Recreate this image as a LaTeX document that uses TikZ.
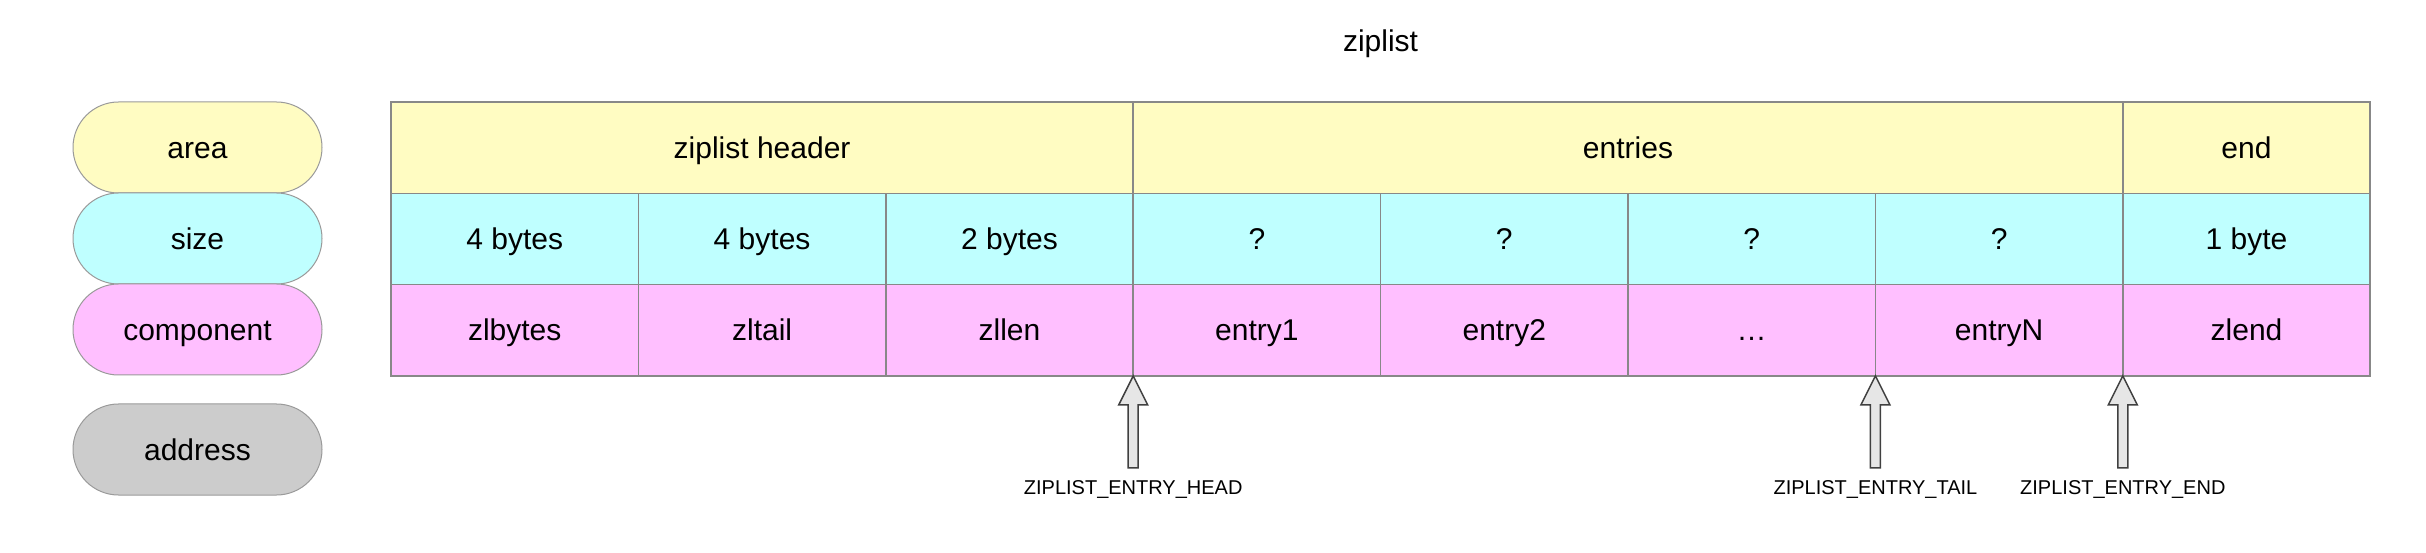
\documentclass[tikz,border=0pt]{standalone}
\usepackage{fontspec}
\setmainfont{Liberation Sans}
\usepackage{tikz}
\usepackage{xcolor}
\definecolor{lemon}{HTML}{FFFCC2}
\definecolor{aqua}{HTML}{BFFFFF}
\definecolor{orchid}{HTML}{FFBFFF}
\definecolor{ash}{HTML}{CCCCCC}
\definecolor{mist}{HTML}{E6E6E6}
\definecolor{rim}{HTML}{888888}
\usetikzlibrary{positioning}

\tikzset{
	bigtext/.style={font=\fontsize{30}{36}\selectfont, text height=23.6pt, text depth=2.3pt},
	cell/.style={draw=rim, line width=1.5pt, minimum height=91.3pt, minimum width=247.4pt,
		inner sep=0pt, outer sep=0pt, bigtext},
	wide/.style={cell, minimum width=#1*247.4pt},
	pill/.style={draw=rim!85, line width=1pt, rounded corners=45.5pt, minimum width=249pt,
		minimum height=91pt, inner sep=0pt, outer sep=0pt, bigtext},
	ptr/.style={draw=black!75, fill=mist, line width=1.5pt, line join=miter},
	ptrlabel/.style={font=\fontsize{20}{24}\selectfont, text height=15.4pt, text depth=2.6pt}
}

\begin{document}
\begin{tikzpicture}[x=1pt,y=1pt]
				\useasboundingbox (0,0) rectangle (2426,552);
				% title
				\node[bigtext] (title) at (1380.5,511.5) {ziplist};
				% legend
				\node[pill,fill=lemon] (areakey) at (197.5,404.5) {area};
				\node[pill,fill=aqua,below=0pt of areakey] (sizekey) {size};
				\node[pill,fill=orchid,below=0pt of sizekey] (compkey) {component};
				\node[pill,fill=ash,below=29pt of compkey] (addrkey) {address};
				% area row
				\node[wide=3,fill=lemon,anchor=north west] (hdr) at (391,450) {ziplist header};
				\node[wide=4,fill=lemon,right=0pt of hdr] (entries) {entries};
				\node[cell,fill=lemon,right=0pt of entries] (endarea) {end};
				% size row
				\node[cell,fill=aqua,anchor=north west] (s1) at (hdr.south west) {4 bytes};
				\node[cell,fill=aqua,right=0pt of s1] (s2) {4 bytes};
				\node[cell,fill=aqua,right=0pt of s2] (s3) {2 bytes};
				\node[cell,fill=aqua,right=0pt of s3] (s4) {?};
				\node[cell,fill=aqua,right=0pt of s4] (s5) {?};
				\node[cell,fill=aqua,right=0pt of s5] (s6) {?};
				\node[cell,fill=aqua,right=0pt of s6] (s7) {?};
				\node[cell,fill=aqua,right=0pt of s7] (s8) {1 byte};
				% component row
				\node[cell,fill=orchid,below=0pt of s1] (c1) {zlbytes};
				\node[cell,fill=orchid,right=0pt of c1] (c2) {zltail};
				\node[cell,fill=orchid,right=0pt of c2] (c3) {zllen};
				\node[cell,fill=orchid,right=0pt of c3] (c4) {entry1};
				\node[cell,fill=orchid,right=0pt of c4] (c5) {entry2};
				\node[cell,fill=orchid,right=0pt of c5] (c6) {\ldots};
				\node[cell,fill=orchid,right=0pt of c6] (c7) {entryN};
				\node[cell,fill=orchid,right=0pt of c7] (c8) {zlend};
				% pointers
				\draw[ptr] (c3.south east) -- ++(-14.5,-29) -- ++(9.5,0) -- ++(0,-63) -- ++(10,0) -- ++(0,63) -- ++(9.5,0) -- cycle;
				\draw[ptr] (c7.south west) -- ++(-14.5,-29) -- ++(9.5,0) -- ++(0,-63) -- ++(10,0) -- ++(0,63) -- ++(9.5,0) -- cycle;
				\draw[ptr] (c8.south west) -- ++(-14.5,-29) -- ++(9.5,0) -- ++(0,-63) -- ++(10,0) -- ++(0,63) -- ++(9.5,0) -- cycle;
				\node[ptrlabel] (headptr) at ([yshift=-112]c3.south east) {ZIPLIST\_ENTRY\_HEAD};
				\node[ptrlabel] (tailptr) at ([yshift=-112]c7.south west) {ZIPLIST\_ENTRY\_TAIL};
				\node[ptrlabel] (endptr) at ([yshift=-112]c8.south west) {ZIPLIST\_ENTRY\_END};
			\end{tikzpicture}
\end{document}
